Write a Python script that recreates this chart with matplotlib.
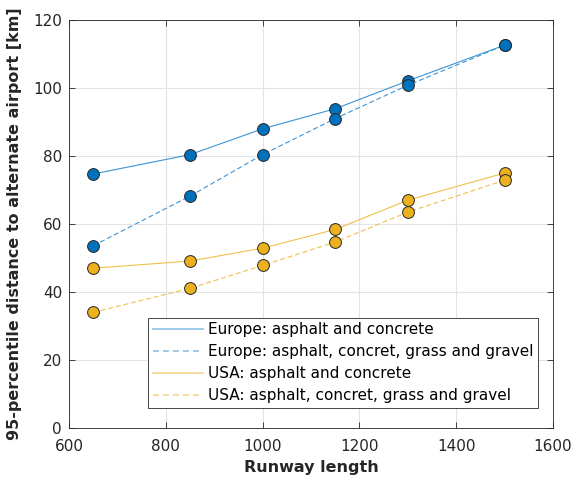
import matplotlib
matplotlib.use("Agg")
import matplotlib.pyplot as plt
from matplotlib.lines import Line2D

runway = [650, 850, 1000, 1150, 1300, 1500]
europe_paved = [74.7, 80.4, 88.0, 93.9, 102.1, 112.6]
europe_all = [53.6, 68.2, 80.4, 91.0, 100.8, 112.6]
usa_paved = [47.0, 49.1, 52.9, 58.4, 67.0, 75.0]
usa_all = [34.0, 41.1, 47.8, 54.7, 63.5, 72.9]

labels = ["Europe: asphalt and concrete",
          "Europe: asphalt, concret, grass and gravel",
          "USA: asphalt and concrete",
          "USA: asphalt, concret, grass and gravel"]

BLUE = "#0072BD"
YELLOW = "#EDB120"
BLUE_LINE = "#3d94d6"
YELLOW_LINE = "#f0c04e"
BLUE_LEG = "#8cc0e6"
YELLOW_LEG = "#f3d48e"
DARK = "#262626"
DASH = (4.5, 2.5)

fig = plt.figure(figsize=(5.72, 4.84), dpi=100)
ax = fig.add_axes([0.1206, 0.1157, 0.8462, 0.843])

series = [(europe_paved, BLUE, BLUE_LINE, BLUE_LEG, "-"),
          (europe_all, BLUE, BLUE_LINE, BLUE_LEG, "--"),
          (usa_paved, YELLOW, YELLOW_LINE, YELLOW_LEG, "-"),
          (usa_all, YELLOW, YELLOW_LINE, YELLOW_LEG, "--")]
handles = []
for vals, col, lcol, legcol, ls in series:
    ln, = ax.plot(runway, vals, color=lcol, lw=0.8)
    ax.plot(runway, vals, ls="none", marker="o", ms=8.5, mfc=col, mec=DARK, mew=0.7)
    h = Line2D([], [], color=legcol, lw=1.2)
    if ls == "--":
        ln.set_dashes(DASH)
        h.set_dashes((3.5, 2.5))
    handles.append(h)

ax.set_xlim(600, 1600)
ax.set_ylim(0, 120)
ax.set_xticks(range(600, 1601, 200))
ax.set_yticks(range(0, 121, 20))
ax.grid(True, color="#e3e3e3", lw=0.8)
ax.set_axisbelow(True)
ax.tick_params(direction="in", top=True, right=True, labelsize=11, colors=DARK,
               length=4, width=0.6)
ax.tick_params(axis="x", pad=8)
ax.tick_params(axis="y", pad=5)
for s in ax.spines.values():
    s.set_color(DARK)
    s.set_linewidth(0.6)

ax.set_xlabel("Runway length", fontsize=11.5, fontweight="bold", color=DARK, labelpad=4)
ax.set_ylabel("95-percentile distance to alternate airport [km]", fontsize=11.5,
              fontweight="bold", color=DARK, labelpad=8)

leg = ax.legend(handles=handles, labels=labels, loc="lower right",
                bbox_to_anchor=(0.969, 0.05), fontsize=11, frameon=True, fancybox=False,
                edgecolor=DARK, framealpha=1, borderpad=0.3, labelspacing=0.45,
                handlelength=3.3, handletextpad=0.3, borderaxespad=0)
leg.get_frame().set_linewidth(0.6)

fig.savefig("out.png", dpi=100)
